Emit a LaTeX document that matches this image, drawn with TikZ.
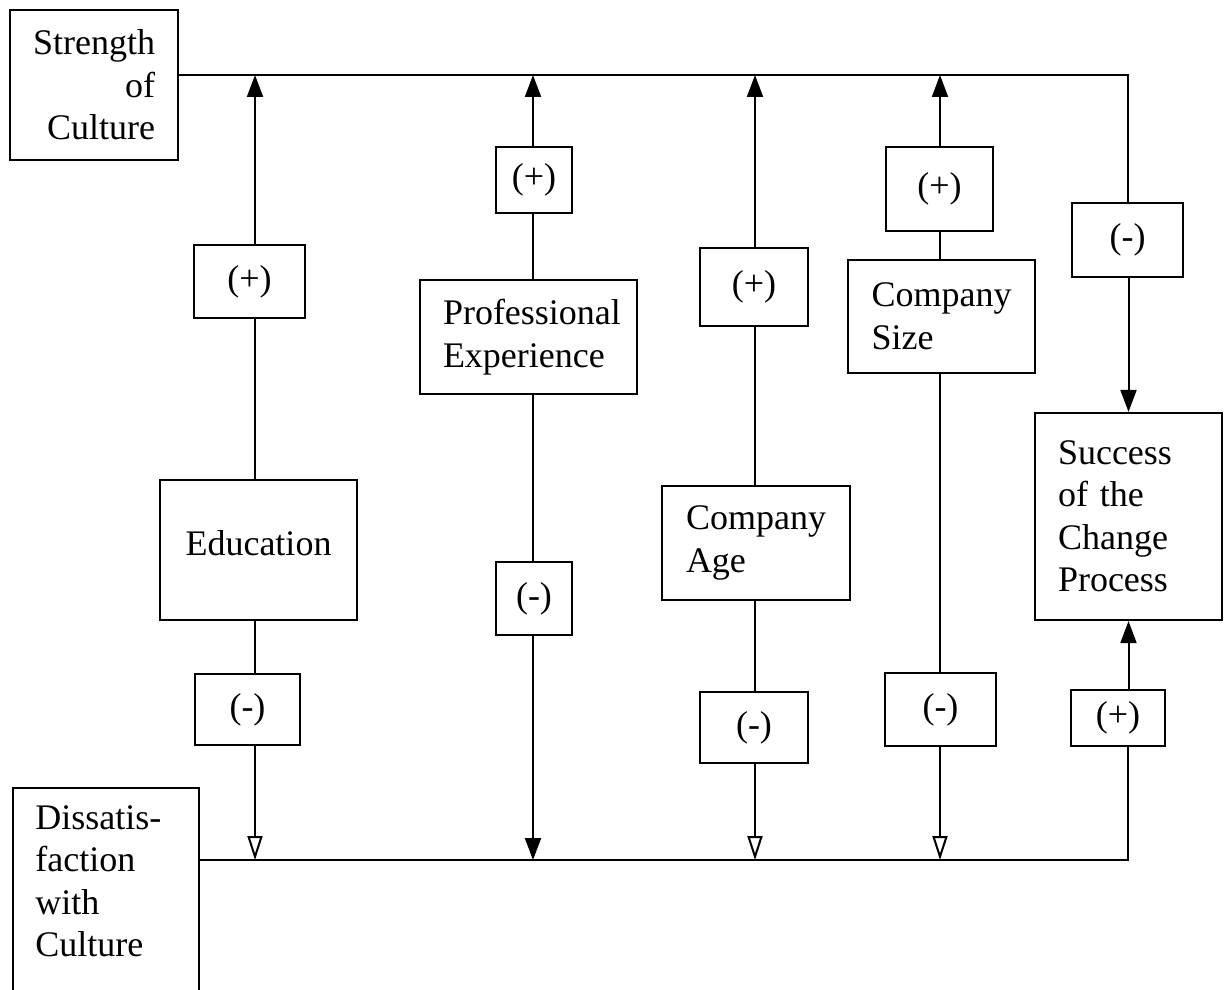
\documentclass[tikz,border=0pt]{standalone}
\usepackage{fontspec}
\setmainfont{Liberation Serif}
\usetikzlibrary{arrows.meta}
\begin{document}
\begin{tikzpicture}[x=0.5pt,y=-0.5pt,
  box/.style={draw, line width=1.1pt, inner sep=0pt,
    font=\fontsize{18}{21.25}\selectfont},
  sz/.style 2 args={minimum width=#1*0.5pt, minimum height=#2*0.5pt},
  wire/.style={line width=1pt},
  solidarrow/.style={wire, -{Triangle[length=11pt,width=8pt]}},
  hollowarrow/.style={wire, -{Triangle[open,length=12pt,width=7.5pt]}},
]
\clip (0,0) rectangle (1228,990);
\fill[white] (0,0) rectangle (1228,990);

% main boxes
\node[box, sz={168}{150}, align=right, text width=61pt] (soc) at (94,85)
  {Strength\\of\\Culture};
\node[box, sz={197}{140}] (edu) at (258.5,550) {\raisebox{7pt}{Education}};
\node[box, sz={217}{114}, align=left, text width=85.5pt] (pe) at (528.5,337)
  {Professional\\Experience};
\node[box, sz={188}{114}, align=left, text width=70pt] (age) at (756,543)
  {Company\\Age};
\node[box, sz={187}{113}, align=left, text width=70pt] (size) at (941.5,316.5)
  {Company\\Size};
\node[box, sz={187}{207}, align=left, text width=70.5pt] (succ) at (1128.5,516.5)
  {Success\\of the\\Change\\Process};
\node[box, sz={186}{280}, anchor=north west] (dis) at (12,787) {};
\node[anchor=north west, inner sep=0pt, align=left,
  font=\fontsize{18}{21.25}\selectfont] (distext) at (35,805)
  {Dissatis-\\faction\\with\\Culture};

% sign boxes
\node[box, sz={111}{73}] (p1) at (249.5,281.5) {(+)};
\node[box, sz={105}{71}] (m1) at (247.5,709.5) {(-)};
\node[box, sz={76}{66}]  (p2) at (534,180) {(+)};
\node[box, sz={76}{73}]  (m2) at (534,598.5) {(-)};
\node[box, sz={108}{78}] (p3) at (754,287) {(+)};
\node[box, sz={108}{71}] (m3) at (754,727.5) {(-)};
\node[box, sz={107}{84}] (p4) at (939.5,189) {(+)};
\node[box, sz={111}{73}] (m4) at (940.5,709.5) {(-)};
\node[box, sz={111}{74}] (m5) at (1127.5,240) {(-)};
\node[box, sz={94}{56}]  (p5) at (1118,718) {(+)};

% junction points on the two horizontal lines
\coordinate (tr) at (1128,75);
\coordinate (br) at (1128,860);
\coordinate (t1) at (255,75);  \coordinate (b1) at (255,860);
\coordinate (t2) at (533,75);  \coordinate (b2) at (533,860);
\coordinate (t3) at (755,75);  \coordinate (b3) at (755,860);
\coordinate (t4) at (940,75);  \coordinate (b4) at (940,860);

% upper and lower rails
\draw[wire] (tr -| soc.east) -- (tr) -- (tr |- m5.north);
\draw[solidarrow] (succ.north |- m5.south) -- (succ.north);
\draw[wire] (br -| dis.east) -- (br) -- (br |- p5.south);
\draw[solidarrow] (succ.south |- p5.north) -- (succ.south);

% Education
\draw[solidarrow] (t1 |- p1.north) -- (t1);
\draw[wire] (t1 |- p1.south) -- (t1 |- edu.north);
\draw[wire] (t1 |- edu.south) -- (t1 |- m1.north);
\draw[hollowarrow] (b1 |- m1.south) -- (b1);

% Professional Experience
\draw[solidarrow] (t2 |- p2.north) -- (t2);
\draw[wire] (t2 |- p2.south) -- (t2 |- pe.north);
\draw[wire] (t2 |- pe.south) -- (t2 |- m2.north);
\draw[solidarrow] (b2 |- m2.south) -- (b2);

% Company Age
\draw[solidarrow] (t3 |- p3.north) -- (t3);
\draw[wire] (t3 |- p3.south) -- (t3 |- age.north);
\draw[wire] (t3 |- age.south) -- (t3 |- m3.north);
\draw[hollowarrow] (b3 |- m3.south) -- (b3);

% Company Size
\draw[solidarrow] (t4 |- p4.north) -- (t4);
\draw[wire] (t4 |- p4.south) -- (t4 |- size.north);
\draw[wire] (t4 |- size.south) -- (t4 |- m4.north);
\draw[hollowarrow] (b4 |- m4.south) -- (b4);
\end{tikzpicture}
\end{document}
